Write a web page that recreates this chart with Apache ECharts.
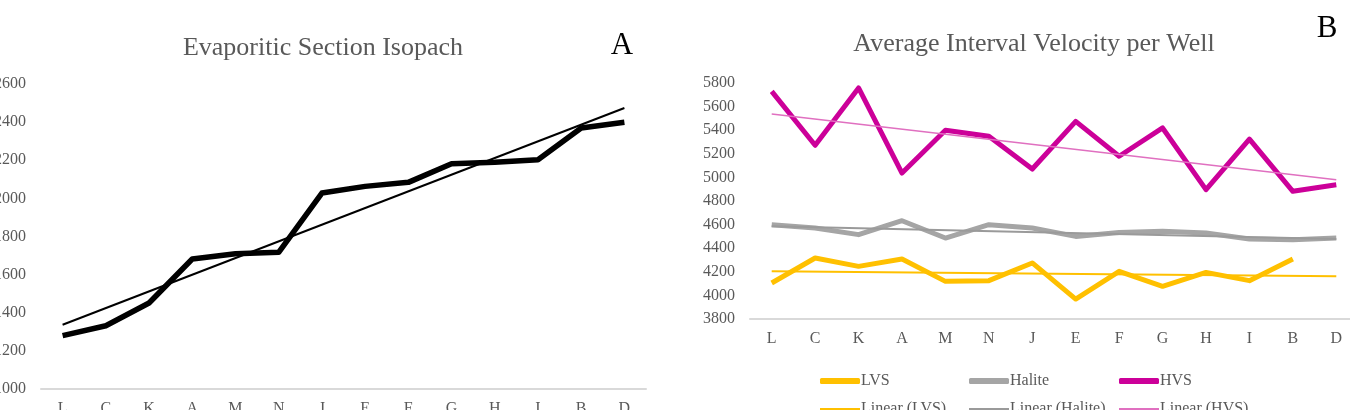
<!DOCTYPE html>
<html>
<head>
<meta charset="utf-8">
<title>Isopach and interval velocity</title>
<script src="https://cdn.jsdelivr.net/npm/echarts@6.0.0/dist/echarts.min.js"></script>
<style>
	html, body { margin: 0; padding: 0; background: #fff; }
	#main { width: 1350px; height: 410px; }
</style>
</head>
<body>
<div id="main"></div>
<script>
// wells, same order in both panels
var wells = [ 'L', 'C', 'K', 'A', 'M', 'N', 'J', 'E', 'F', 'G', 'H', 'I', 'B', 'D' ];

// panel A - evaporitic section isopach
var isopach = [ 1280, 1332, 1451, 1682, 1710, 1717, 2028, 2063, 2084, 2182, 2189, 2203, 2369, 2399 ];
var isopachTrend = [ 1337, 2474 ]; // at L and D

// panel B - average interval velocity
var lvs = [ 4105, 4317, 4246, 4308, 4119, 4125, 4275, 3969, 4204, 4077, 4195, 4125, 4308, null ];
var halite = [ 4599, 4571, 4515, 4633, 4486, 4599, 4571, 4500, 4534, 4543, 4529, 4478, 4472, 4486 ];
var hvs = [ 5729, 5272, 5758, 5037, 5399, 5348, 5071, 5475, 5179, 5419, 4896, 5325, 4882, 4938 ];
var lvsTrend = [ 4204, 4162 ];
var haliteTrend = [ 4585, 4478 ];
var hvsTrend = [ 5537, 4981 ];

var seriesNames = [ 'LVS', 'Halite', 'HVS' ];
var trendNames = [ 'Linear (LVS)', 'Linear (Halite)', 'Linear (HVS)' ];

var serif = '"Liberation Serif", "DejaVu Serif", serif';
var grey = '#595959';

function ends(pair) {
	return [ [ wells[0], pair[0] ], [ wells[wells.length - 1], pair[1] ] ];
}

function valueAxis(idx, min, max) {
	return {
		type : 'value',
		gridIndex : idx,
		min : min,
		max : max,
		interval : 200,
		splitLine : { show : false },
		axisLine : { show : false },
		axisTick : { show : false },
		axisLabel : {
			color : grey, fontFamily : serif, fontSize : 16, margin : 15,
			formatter : function(v) { return String(v); } // no thousands comma
		}
	};
}

function catAxis(idx) {
	return {
		type : 'category',
		gridIndex : idx,
		data : wells,
		axisTick : { show : false },
		axisLine : { lineStyle : { color : '#d9d9d9', width : 2 } },
		axisLabel : { color : grey, fontFamily : serif, fontSize : 16, margin : 12 }
	};
}

function line(name, data, color, width, xi, z) {
	return {
		name : name,
		type : 'line',
		xAxisIndex : xi,
		yAxisIndex : xi,
		data : data,
		symbol : 'none',
		z : z,
		itemStyle : { color : color },
		lineStyle : { color : color, width : width, join : 'round' }
	};
}

var colors = [ '#ffc000', '#a5a5a5', '#cc0099' ];
var trendColors = [ '#ffc000', '#9a9a9a', '#e070c0' ];

// legends, one per item so they sit where they do in the picture
var legendX = [ 815, 964, 1114 ];
var legends = [];
for (var i = 0; i < 3; i++) {
	legends.push({
		data : [ seriesNames[i] ],
		left : legendX[i],
		top : 368,
		icon : 'roundRect',
		itemWidth : 40,
		itemHeight : 6,
		itemGap : 0,
		textStyle : { color : grey, fontFamily : serif, fontSize : 16, padding : [ 0, 0, 0, -4 ] }
	});
	legends.push({
		data : [ trendNames[i] ],
		left : legendX[i],
		top : 396,
		icon : 'rect',
		itemWidth : 40,
		itemHeight : 2,
		itemGap : 0,
		textStyle : { color : grey, fontFamily : serif, fontSize : 16, padding : [ 0, 0, 0, -4 ] }
	});
}

var myChart = echarts.init(document.getElementById('main'));

var option = {
	backgroundColor : '#fff',
	animation : false,
	graphic : [ {
		type : 'text', x : 323, y : 48,
		style : { text : 'Evaporitic Section Isopach', font : '26px ' + serif, fill : grey, align : 'center', verticalAlign : 'middle' }
	}, {
		type : 'text', x : 622, y : 46,
		style : { text : 'A', font : '31px ' + serif, fill : '#000', align : 'center', verticalAlign : 'middle' }
	}, {
		type : 'text', x : 1034, y : 44,
		style : { text : 'Average Interval Velocity per Well', font : '26px ' + serif, fill : grey, align : 'center', verticalAlign : 'middle' }
	}, {
		type : 'text', x : 1327, y : 29,
		style : { text : 'B', font : '31px ' + serif, fill : '#000', align : 'center', verticalAlign : 'middle' }
	} ],
	legend : legends,
	// labels may hang off the canvas, as in the picture
	grid : [ { left : 41, right : 704, top : 84, bottom : 21, outerBoundsMode : 'none' },
	         { left : 750, right : -8, top : 83, bottom : 91, outerBoundsMode : 'none' } ],
	xAxis : [ catAxis(0), catAxis(1) ],
	yAxis : [ valueAxis(0, 1000, 2600), valueAxis(1, 3800, 5800) ],
	series : [
		line('Isopach', isopach, '#000', 5.5, 0, 2),
		line('Linear (Isopach)', ends(isopachTrend), '#000', 2, 0, 3),
		line(seriesNames[0], lvs, colors[0], 5, 1, 2),
		line(seriesNames[1], halite, colors[1], 5, 1, 2),
		line(seriesNames[2], hvs, colors[2], 5, 1, 2),
		line(trendNames[0], ends(lvsTrend), trendColors[0], 2, 1, 3),
		line(trendNames[1], ends(haliteTrend), trendColors[1], 2, 1, 3),
		line(trendNames[2], ends(hvsTrend), trendColors[2], 1.5, 1, 3)
	]
};

myChart.setOption(option);
</script>
</body>
</html>
